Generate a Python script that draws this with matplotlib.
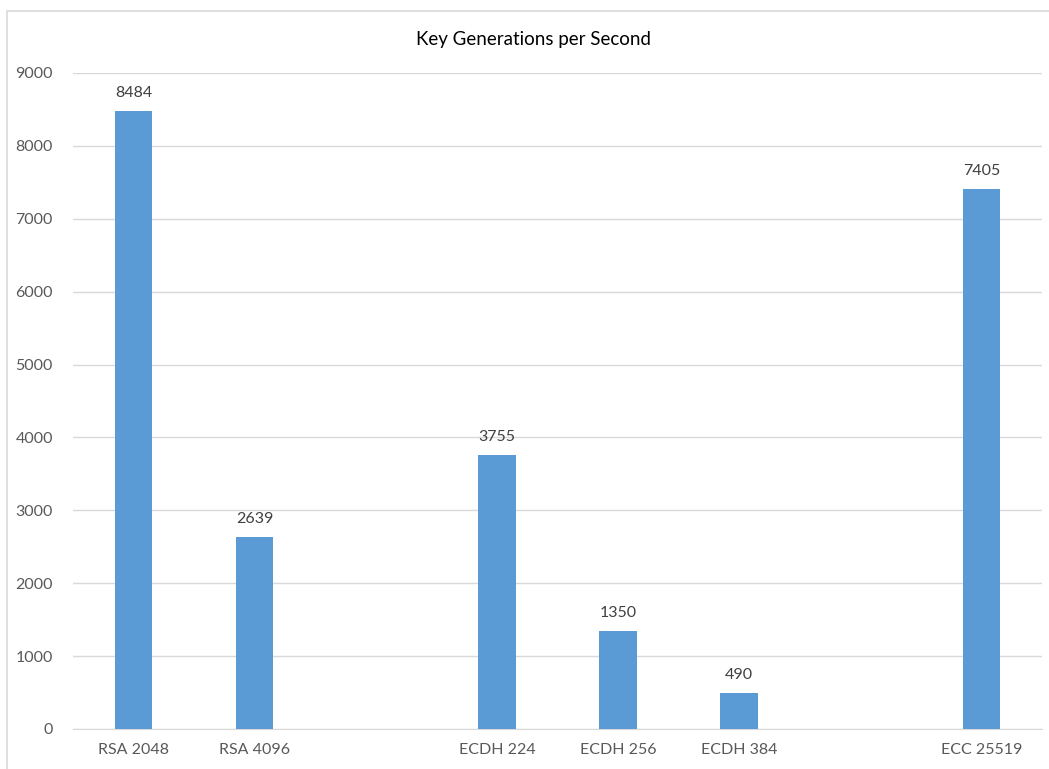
import numpy as np
import matplotlib.pyplot as plt
from matplotlib.patches import Rectangle

plt.rcParams['font.family'] = ['Lato', 'DejaVu Sans']

# data (empty slots are blank categories in the original chart)
categories = ["RSA 2048", "RSA 4096", "", "ECDH 224", "ECDH 256", "ECDH 384", "", "ECC 25519"]
values = [8484, 2639, np.nan, 3755, 1350, 490, np.nan, 7405]
yticks = [0, 1000, 2000, 3000, 4000, 5000, 6000, 7000, 8000, 9000]
title = "Key Generations per Second"

W, H = 1049, 769
fig = plt.figure(figsize=(W / 100, H / 100), dpi=100)
fig.patch.set_facecolor('white')

# chart border
fig.patches.append(Rectangle((7 / W, -0.1), 1.2, 1.1 - 11 / H, transform=fig.transFigure,
                             fill=False, edgecolor='#d9d9d9', linewidth=1.2))

ax = fig.add_axes([73 / W, (H - 729) / H, (1042 - 73) / W, (729 - 73) / H])

x = np.arange(len(categories))
vals = np.array(values, dtype=float)
ax.bar(x, np.nan_to_num(vals), width=0.31, color='#5b9bd5', zorder=3)

for xi, v in zip(x, vals):
    if not np.isnan(v):
        ax.text(xi, v + 150, "%d" % v, ha='center', va='bottom', fontsize=11.5, color='#404040')

ax.set_xlim(-0.5, len(categories) - 0.5)
ax.set_ylim(0, 9000)
ax.set_yticks(yticks)
ax.set_xticks(x)
ax.set_xticklabels(categories)
ax.tick_params(axis='both', length=0, labelsize=11.5, colors='#595959')
ax.tick_params(axis='x', pad=10)
ax.tick_params(axis='y', pad=14.5)
ax.grid(axis='y', color='#d9d9d9', linewidth=1, zorder=0)
for s in ['top', 'right', 'left']:
    ax.spines[s].set_visible(False)
ax.spines['bottom'].set_color('#d9d9d9')

fig.text(534 / W, 1 - 39 / H, title, ha='center', va='center', fontsize=13.5, color='#000000')

fig.savefig('out.png', dpi=100)
